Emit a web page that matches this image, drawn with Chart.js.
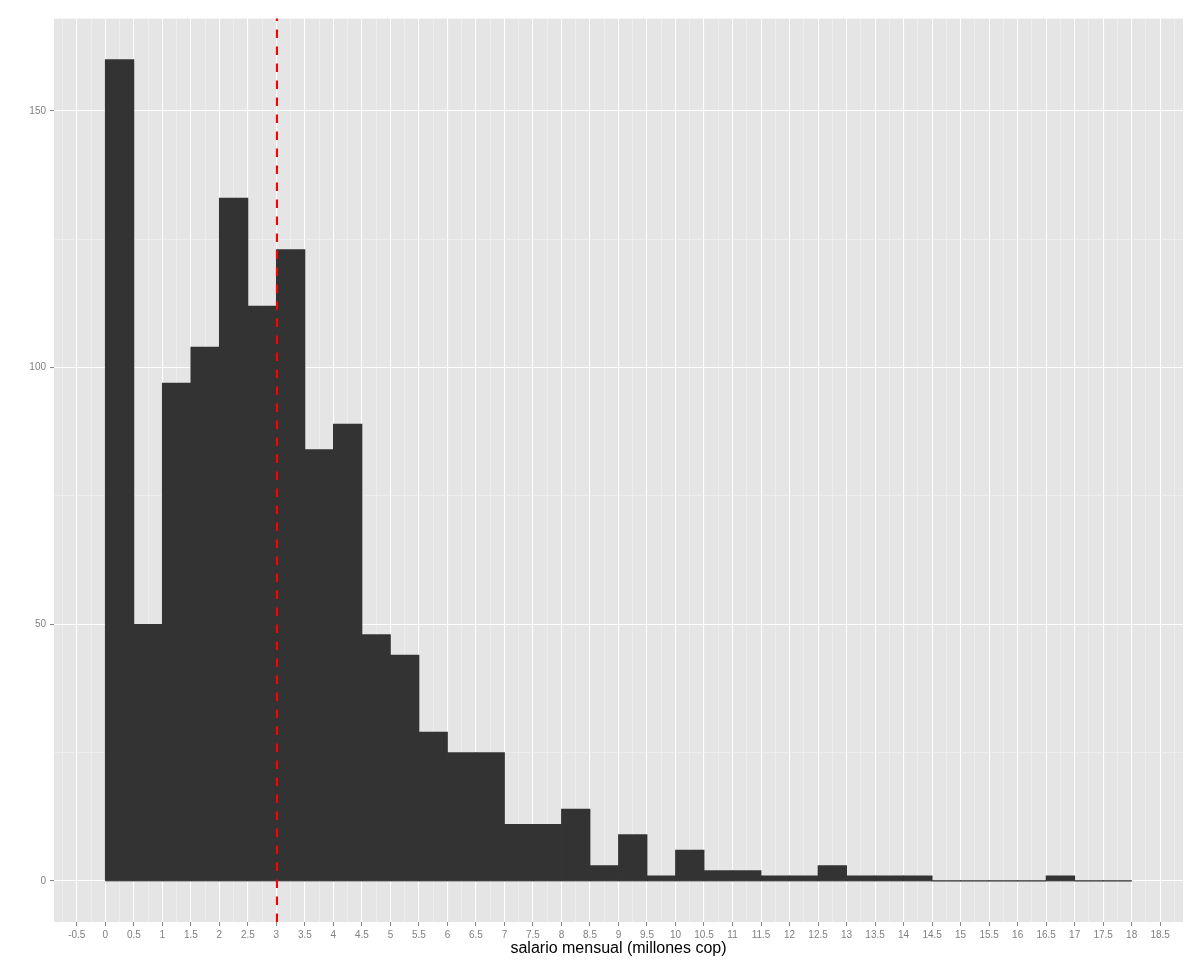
<!DOCTYPE html>
<html>
<head>
<meta charset="utf-8">
<script src="https://cdn.jsdelivr.net/npm/chart.js@4.4.1/dist/chart.umd.min.js"></script>
<style>
  html, body { margin: 0; padding: 0; background: #fff; }
  #contenedor { width: 1200px; height: 967px; }
</style>
</head>
<body>
<div id="contenedor"><canvas id="histograma" width="1200" height="967"></canvas></div>
<script>
// inicio de cada intervalo (millones cop) y su frecuencia
const anchoBin = 0.5;
const binInicio = [0, 0.5, 1, 1.5, 2, 2.5, 3, 3.5, 4, 4.5, 5, 5.5, 6, 6.5, 7, 7.5, 8, 8.5,
                   9, 9.5, 10, 10.5, 11, 11.5, 12, 12.5, 13, 13.5, 14, 14.5, 15, 15.5, 16, 16.5, 17, 17.5];
const conteos = [160, 50, 97, 104, 133, 112, 123, 84, 89, 48, 44, 29, 25, 25, 11, 11, 14, 3,
                 9, 1, 6, 2, 2, 1, 1, 3, 1, 1, 1, 0, 0, 0, 0, 1, 0, 0];
const mediana = 3.01;

const ticksEjeX = [-0.5, 0, 0.5, 1, 1.5, 2, 2.5, 3, 3.5, 4, 4.5, 5, 5.5, 6, 6.5, 7, 7.5, 8, 8.5, 9, 9.5,
                   10, 10.5, 11, 11.5, 12, 12.5, 13, 13.5, 14, 14.5, 15, 15.5, 16, 16.5, 17, 17.5, 18, 18.5];
const ticksEjeY = [0, 50, 100, 150];
const rangoX = [-0.9, 18.9];
const rangoY = [-8, 168];

// lineas menores a mitad de camino entre las mayores (como ggplot)
function conMenores(mayores, min, max) {
    const paso = mayores[1] - mayores[0];
    const lista = mayores.map(v => ({ value: v, menor: false }));
    const extremos = [mayores[0] - paso, ...mayores, mayores[mayores.length - 1] + paso];
    for (let i = 0; i < extremos.length - 1; i++) {
        const m = (extremos[i] + extremos[i + 1]) / 2;
        if (m > min && m < max) lista.push({ value: m, menor: true });
    }
    return lista.sort((a, b) => a.value - b.value);
}

const esMenor = c => c.tick && c.tick.menor;
const gris50 = '#7F7F7F';
const fuente = 'Liberation Sans, Arial, Helvetica, sans-serif';

const fondoPanel = {
    id: 'fondoPanel',
    beforeDraw(chart) {
        const { ctx, chartArea: a } = chart;
        ctx.save();
        ctx.fillStyle = '#E5E5E5';
        ctx.fillRect(a.left, a.top, a.right - a.left, a.bottom - a.top);
        ctx.restore();
    }
};

const lineasExtra = {
    id: 'lineasExtra',
    afterDatasetsDraw(chart) {
        const { ctx, chartArea: a, scales: { x, y } } = chart;
        ctx.save();
        // base de las barras
        ctx.strokeStyle = 'rgba(0,0,0,0.5)';
        ctx.lineWidth = 1.3;
        ctx.beginPath();
        ctx.moveTo(x.getPixelForValue(binInicio[0]), y.getPixelForValue(0));
        ctx.lineTo(x.getPixelForValue(binInicio[binInicio.length - 1] + anchoBin), y.getPixelForValue(0));
        ctx.stroke();
        // linea de la mediana
        const xm = x.getPixelForValue(mediana);
        ctx.strokeStyle = '#FF0000';
        ctx.lineWidth = 2.1;
        ctx.lineCap = 'butt';
        ctx.setLineDash([8.5, 8.5]);
        ctx.beginPath();
        ctx.moveTo(xm, a.bottom);
        ctx.lineTo(xm, a.top);
        ctx.stroke();
        ctx.restore();
    }
};

const barras = binInicio.map((b, i) => ({ x: b + anchoBin / 2, y: conteos[i] }));

const ctx = document.getElementById('histograma').getContext('2d');
new Chart(ctx, {
    type: 'bar',
    data: {
        datasets: [{
            data: barras,
            backgroundColor: '#333333',
            borderWidth: 0,
            // el ancho minimo lo fijan los ticks menores (0.25), asi que x2 = 0.5
            barPercentage: 2,
            categoryPercentage: 1,
            inflateAmount: 0.4
        }]
    },
    options: {
        responsive: false,
        animation: false,
        layout: { padding: { top: 18.6, right: 17, bottom: 0, left: 0 } },
        plugins: {
            legend: { display: false },
            tooltip: { enabled: false }
        },
        scales: {
            x: {
                type: 'linear',
                min: rangoX[0],
                max: rangoX[1],
                offset: false,
                afterBuildTicks: s => { s.ticks = conMenores(ticksEjeX, rangoX[0], rangoX[1]); },
                afterFit: s => { s.height = 45; },
                border: { display: false },
                grid: {
                    offset: false,
                    color: c => esMenor(c) ? '#F2F2F2' : '#FFFFFF',
                    lineWidth: c => esMenor(c) ? 0.6 : 1.1,
                    tickColor: c => esMenor(c) ? 'rgba(0,0,0,0)' : gris50,
                    tickWidth: 1,
                    tickLength: 4
                },
                ticks: {
                    autoSkip: false,
                    maxRotation: 0,
                    color: gris50,
                    padding: 3,
                    font: { family: fuente, size: 10 },
                    callback: (v, i, t) => t[i].menor ? '' : String(v)
                },
                title: {
                    display: true,
                    text: 'salario mensual (millones cop)',
                    color: '#000000',
                    font: { family: fuente, size: 16 },
                    padding: { top: 0, bottom: 9 }
                }
            },
            y: {
                min: rangoY[0],
                max: rangoY[1],
                afterBuildTicks: s => { s.ticks = conMenores(ticksEjeY, rangoY[0], rangoY[1]); },
                afterFit: s => { s.width = 54; },
                border: { display: false },
                grid: {
                    color: c => esMenor(c) ? '#F2F2F2' : '#FFFFFF',
                    lineWidth: c => esMenor(c) ? 0.6 : 1.1,
                    tickColor: c => esMenor(c) ? 'rgba(0,0,0,0)' : gris50,
                    tickWidth: 1,
                    tickLength: 4
                },
                ticks: {
                    color: gris50,
                    padding: 4,
                    font: { family: fuente, size: 10 },
                    callback: (v, i, t) => t[i].menor ? '' : String(v)
                }
            }
        }
    },
    plugins: [fondoPanel, lineasExtra]
});
</script>
</body>
</html>
